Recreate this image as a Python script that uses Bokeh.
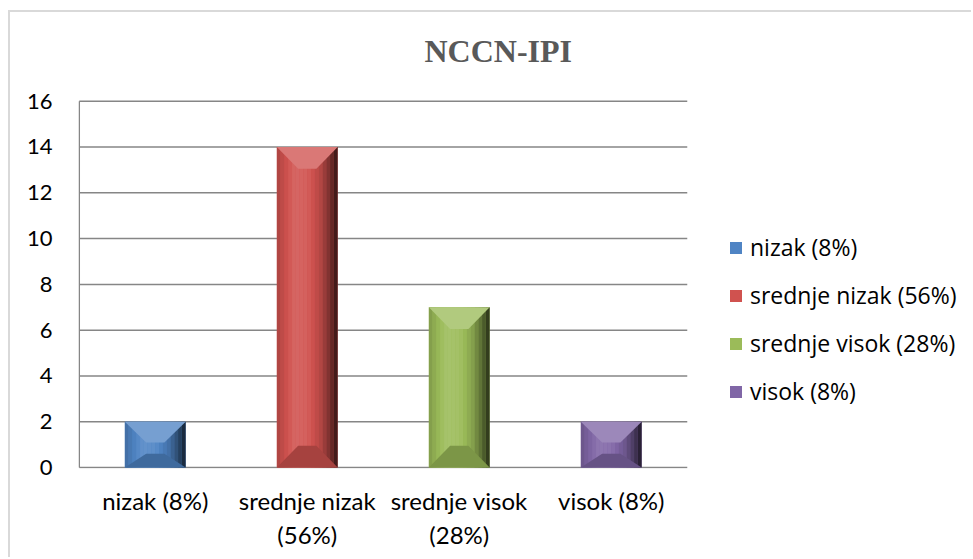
import numpy as np
from bokeh.plotting import figure
from bokeh.models import (ColumnDataSource, FixedTicker, Legend, LegendItem,
                          Label, Range1d)
from bokeh.embed import file_html
from bokeh.resources import INLINE

# ---- data ----
title_text = "NCCN-IPI"
categories = ["nizak (8%)", "srednje nizak (56%)", "srednje visok (28%)", "visok (8%)"]
axis_labels = ["nizak (8%)", "srednje nizak\n(56%)", "srednje visok\n(28%)", "visok (8%)"]
counts = [2, 14, 7, 2]
bar_colors = ["#4f84c4", "#d0524f", "#9bbb59", "#8066a6"]
y_ticks = [0, 2, 4, 6, 8, 10, 12, 14, 16]

# ---- layout / style constants ----
FIG_W, FIG_H = 963, 547
BORDER_L, BORDER_B = 68, 91
SLOT_PX = 152                        # pixel width of one category slot
FRAME_W = FIG_W - BORDER_L
FRAME_H = FIG_H - BORDER_B
TOP_SPACE_PX = 88.7                  # space above the value-axis top, holds the title
Y_PAD = 0.04
X_PAD = 0.005
y_top = y_ticks[-1]
px_per_unit = (FRAME_H - TOP_SPACE_PX) / (y_top + Y_PAD)
Y_END = y_top + TOP_SPACE_PX / px_per_unit
X_END = FRAME_W / SLOT_PX - X_PAD
TITLE_X = (497 - 78) / SLOT_PX
TITLE_Y = y_top + (TOP_SPACE_PX - 38) / px_per_unit

def shade(hexc, f):
    h = hexc.lstrip("#")
    rgb = [int(h[i:i + 2], 16) for i in (0, 2, 4)]
    out = []
    for c in rgb:
        if f >= 0:
            c = c + (255 - c) * f
        else:
            c = c * (1 + f)
        out.append(int(round(max(0, min(255, c)))))
    return "#%02x%02x%02x" % tuple(out)

BAR_W = 0.4
N_STRIPS = 16
prof_t = [0.0, 0.3, 0.5, 0.72, 0.88, 1.0]
prof_f = [-0.18, 0.12, 0.08, -0.15, -0.45, -0.75]
BEVEL_X = 0.14
BEVEL_Y = 0.95

n_cat = len(categories)
xs_center = [i + 0.5 for i in range(n_cat)]

sl, sr, sb, st, sc = [], [], [], [], []
fx, fy, fc = [], [], []
for xc, v, col in zip(xs_center, counts, bar_colors):
    x0, x1 = xc - BAR_W / 2, xc + BAR_W / 2
    sw = BAR_W / N_STRIPS
    for k in range(N_STRIPS):
        t = (k + 0.5) / N_STRIPS
        f = float(np.interp(t, prof_t, prof_f))
        sl.append(x0 + k * sw)
        sr.append(x0 + (k + 1) * sw + 1e-4)
        sb.append(0)
        st.append(v)
        sc.append(shade(col, f))
    dyt = min(BEVEL_Y, 0.45 * v)
    dyb = min(BEVEL_Y, 0.3 * v)
    fx.append([x0, x1, x1 - BEVEL_X, x0 + BEVEL_X])
    fy.append([v, v, v - dyt, v - dyt])
    fc.append(shade(col, 0.22))
    fx.append([x0, x1, x1 - BEVEL_X, x0 + BEVEL_X])
    fy.append([0, 0, dyb, dyb])
    fc.append(shade(col, -0.2))

src = ColumnDataSource(dict(x=xs_center, counts=counts, color=bar_colors, label=categories))
strip_src = ColumnDataSource(dict(left=sl, right=sr, bottom=sb, top=st, color=sc))
facet_src = ColumnDataSource(dict(xs=fx, ys=fy, color=fc))
grid_src = ColumnDataSource(dict(x0=[0] * len(y_ticks), x1=[n_cat] * len(y_ticks),
                                 y=y_ticks))

p = figure(width=FIG_W, height=FIG_H, output_backend="svg", toolbar_location=None,
           x_range=Range1d(-X_PAD, X_END),
           y_range=Range1d(y_ticks[0] - Y_PAD, Y_END),
           min_border_left=BORDER_L, min_border_right=0,
           min_border_top=0, min_border_bottom=BORDER_B)
p.styles = {"margin-left": "8px", "margin-top": "10px",
            "border-top": "2px solid #d9d9d9", "border-left": "2px solid #d9d9d9"}
p.outline_line_color = None
p.background_fill_color = "white"
p.border_fill_color = "white"

# gridlines / category axis line across the category slots only
p.segment(x0="x0", y0="y", x1="x1", y1="y", line_color="#868686", line_width=1.5,
          source=grid_src)
# value axis line from 0 to the top tick
p.segment(x0=[0], y0=[y_ticks[0]], x1=[0], y1=[y_top], line_color="#868686", line_width=1.5)

base = p.vbar(x="x", top="counts", width=BAR_W, fill_color="color", line_color=None, source=src)
p.quad(left="left", right="right", bottom="bottom", top="top", fill_color="color",
       line_color=None, source=strip_src)
p.patches(xs="xs", ys="ys", fill_color="color", line_color=None, source=facet_src)

# axes
p.xaxis.ticker = FixedTicker(ticks=xs_center)
p.xaxis.major_label_overrides = {x: lab for x, lab in zip(xs_center, axis_labels)}
p.yaxis.ticker = FixedTicker(ticks=y_ticks)
for ax in (p.xaxis, p.yaxis):
    ax.axis_line_color = None
    ax.major_tick_line_color = None
    ax.major_tick_out = 0
    ax.major_tick_in = 0
    ax.minor_tick_line_color = None
    ax.minor_tick_out = 0
    ax.major_label_text_font = "Lato"
    ax.major_label_text_color = "#000000"
p.yaxis.major_label_text_font_size = "22px"
p.xaxis.major_label_text_font_size = "24px"
p.yaxis.major_label_standoff = 26
p.xaxis.major_label_standoff = 17

p.xgrid.grid_line_color = None
p.ygrid.grid_line_color = None

# title
p.add_layout(Label(x=TITLE_X, y=TITLE_Y, text=title_text, text_align="center",
                   text_baseline="middle", text_font="Liberation Serif",
                   text_font_size="32px", text_font_style="bold", text_color="#595959"))

# legend (inside the widened frame, right of the category slots)
items = [LegendItem(label=c, renderers=[base], index=i) for i, c in enumerate(categories)]
leg = Legend(items=items, location=(650, 61), padding=0, margin=0,
             border_line_alpha=0, background_fill_alpha=0,
             glyph_width=15, glyph_height=15, label_height=32, spacing=16,
             label_standoff=7, label_text_font="Open Sans", label_text_font_size="23px",
             label_text_color="#000000")
p.add_layout(leg, "center")

open("out.html", "w").write(file_html(p, INLINE))
